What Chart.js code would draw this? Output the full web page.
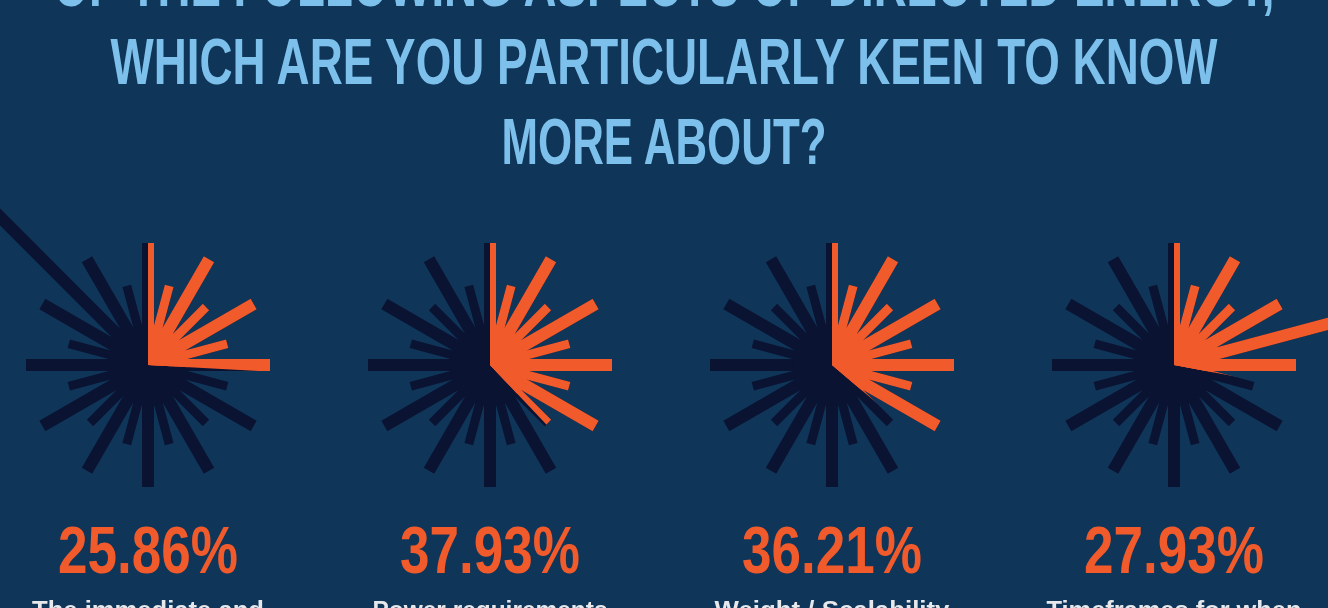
<!DOCTYPE html>
<html>
<head>
<meta charset="utf-8">
<script src="https://cdn.jsdelivr.net/npm/chart.js@4.4.0/dist/chart.umd.min.js"></script>
<style>
  html, body { margin:0; padding:0; width:1328px; height:608px; overflow:hidden; background:#0f3659; position:relative; }
  .txt { position:absolute; white-space:nowrap; transform-origin:50% 50%; }
  .title { font-family:"Liberation Sans Narrow","Liberation Sans",sans-serif; font-weight:bold; color:#7dc0eb; font-size:65px; line-height:65px; }
  .pct { font-family:"Liberation Sans Narrow","Liberation Sans",sans-serif; font-weight:bold; color:#f15a2b; font-size:67px; line-height:67px; }
  .lab { font-family:"Liberation Sans","Roboto",sans-serif; font-weight:bold; color:#e6e8ec; font-size:24px; line-height:24px; }
  .box { position:absolute; width:340px; height:340px; }
</style>
</head>
<body>
<div id="stage"></div>
<script>
// ---- data ----
const titleLines = ["OF THE FOLLOWING ASPECTS OF DIRECTED ENERGY,", "WHICH ARE YOU PARTICULARLY KEEN TO KNOW", "MORE ABOUT?"];
const categories = ["The immediate and", "Power requirements", "Weight / Scalability", "Timeframes for when"];
const percentages = [25.86, 37.93, 36.21, 27.93];
const spokeAngles = [0, 15, 30, 45, 60, 75, 90, 105, 120, 135, 150, 165, 180, 195, 210, 225, 240, 255, 270, 285, 300, 315, 330, 345];
const spokeLengths1 = [122, 82, 122, 82, 122, 82, 122, 82, 122, 82, 122, 82, 122, 82, 122, 82, 122, 82, 122, 82, 122, 230, 122, 82];
const spokeLengths2 = [122, 82, 122, 82, 122, 82, 122, 82, 122, 82, 122, 82, 122, 82, 122, 82, 122, 82, 122, 82, 122, 82, 122, 82];
const spokeLengths3 = [122, 82, 122, 82, 122, 82, 122, 82, 122, 82, 122, 82, 122, 82, 122, 82, 122, 82, 122, 82, 122, 82, 122, 82];
const spokeLengths4 = [122, 82, 122, 82, 122, 175, 122, 82, 122, 82, 122, 82, 122, 82, 122, 82, 122, 82, 122, 82, 122, 82, 122, 82];
const hubRadius = 40;
const spokeLists = [spokeLengths1, spokeLengths2, spokeLengths3, spokeLengths4];

// ---- layout / style ----
const centersX = [148, 490, 832, 1174];
const centerY = 365;
const HALF = 170;
const ORANGE = '#f15a2b';
const NAVY = '#0b1332';
const LONG_W = 12, SHORT_W = 9;

const sectorClip = {
  id: 'sectorClip',
  beforeDatasetDraw(chart, args) {
    const ds = chart.data.datasets[args.index];
    if (ds.sectorPct == null) return;
    const ctx = chart.ctx;
    const cx = chart.scales.x.getPixelForValue(0);
    const cy = chart.scales.y.getPixelForValue(0);
    const a0 = -Math.PI / 2;
    const a1 = a0 + ds.sectorPct / 100 * Math.PI * 2;
    ctx.save();
    ctx.beginPath();
    ctx.moveTo(cx, cy);
    ctx.arc(cx, cy, 2000, a0, a1);
    ctx.closePath();
    ctx.clip();
  },
  afterDatasetDraw(chart, args) {
    const ds = chart.data.datasets[args.index];
    if (ds.sectorPct == null) return;
    chart.ctx.restore();
  }
};

function spokePoints(lengths, wantLong) {
  const pts = [];
  spokeAngles.forEach((deg, i) => {
    const L = lengths[i];
    const isLong = L >= 100;
    if (isLong !== wantLong) return;
    const r = deg * Math.PI / 180;
    pts.push({x: 0, y: 0});
    pts.push({x: L * Math.sin(r), y: L * Math.cos(r)});
    pts.push({x: 0, y: null});
  });
  return pts;
}

function lineDs(data, color, width, order, pct) {
  return {
    type: 'scatter', data, showLine: true, borderColor: color, borderWidth: width,
    borderCapStyle: 'butt', pointRadius: 0, pointHoverRadius: 0, spanGaps: false,
    order, sectorPct: pct, clip: false
  };
}
function hubDs(color, order, pct) {
  return {
    type: 'scatter', data: [{x: 0, y: 0}], showLine: false, pointRadius: hubRadius,
    pointHoverRadius: hubRadius, pointBackgroundColor: color, pointBorderWidth: 0,
    pointBorderColor: color, order, sectorPct: pct, clip: false
  };
}

const stage = document.getElementById('stage');

function addText(cls, text, centerX, top, targetW) {
  const s = document.createElement('span');
  s.className = 'txt ' + cls;
  s.textContent = text;
  s.style.left = centerX + 'px';
  s.style.top = top + 'px';
  stage.appendChild(s);
  const w = s.getBoundingClientRect().width;
  const k = w > 0 ? targetW / w : 1;
  s.style.transform = 'translateX(-50%) scaleX(' + k + ')';
}

percentages.forEach((pct, k) => {
  const box = document.createElement('div');
  box.className = 'box';
  box.style.left = (centersX[k] - HALF) + 'px';
  box.style.top = (centerY - HALF) + 'px';
  const cv = document.createElement('canvas');
  cv.width = HALF * 2; cv.height = HALF * 2;
  box.appendChild(cv);
  stage.appendChild(box);
  const L = spokeLists[k];
  new Chart(cv, {
    type: 'scatter',
    data: {
      datasets: [
        hubDs(ORANGE, 0, pct),
        lineDs(spokePoints(L, true), ORANGE, LONG_W, 1, pct),
        lineDs(spokePoints(L, false), ORANGE, SHORT_W, 2, pct),
        hubDs(NAVY, 3, null),
        lineDs(spokePoints(L, true), NAVY, LONG_W, 4, null),
        lineDs(spokePoints(L, false), NAVY, SHORT_W, 5, null)
      ]
    },
    options: {
      responsive: false, maintainAspectRatio: false, animation: false, devicePixelRatio: 1,
      events: [],
      layout: { padding: 0, autoPadding: false },
      scales: {
        x: { type: 'linear', min: -HALF, max: HALF, display: false },
        y: { type: 'linear', min: -HALF, max: HALF, display: false }
      },
      plugins: { legend: { display: false }, tooltip: { enabled: false }, title: { display: false } }
    },
    plugins: [sectorClip]
  });
});

const titleTops = [-49, 29, 109];
const titleW = [1221, 1107, 325];
titleLines.forEach((t, i) => addText('title', t, 664, titleTops[i], titleW[i]));
const labW = [232, 235, 235, 255];
percentages.forEach((pct, k) => {
  addText('pct', pct.toFixed(2) + '%', centersX[k], 516, 180);
  addText('lab', categories[k], centersX[k], 598, labW[k]);
});
</script>
</body>
</html>
